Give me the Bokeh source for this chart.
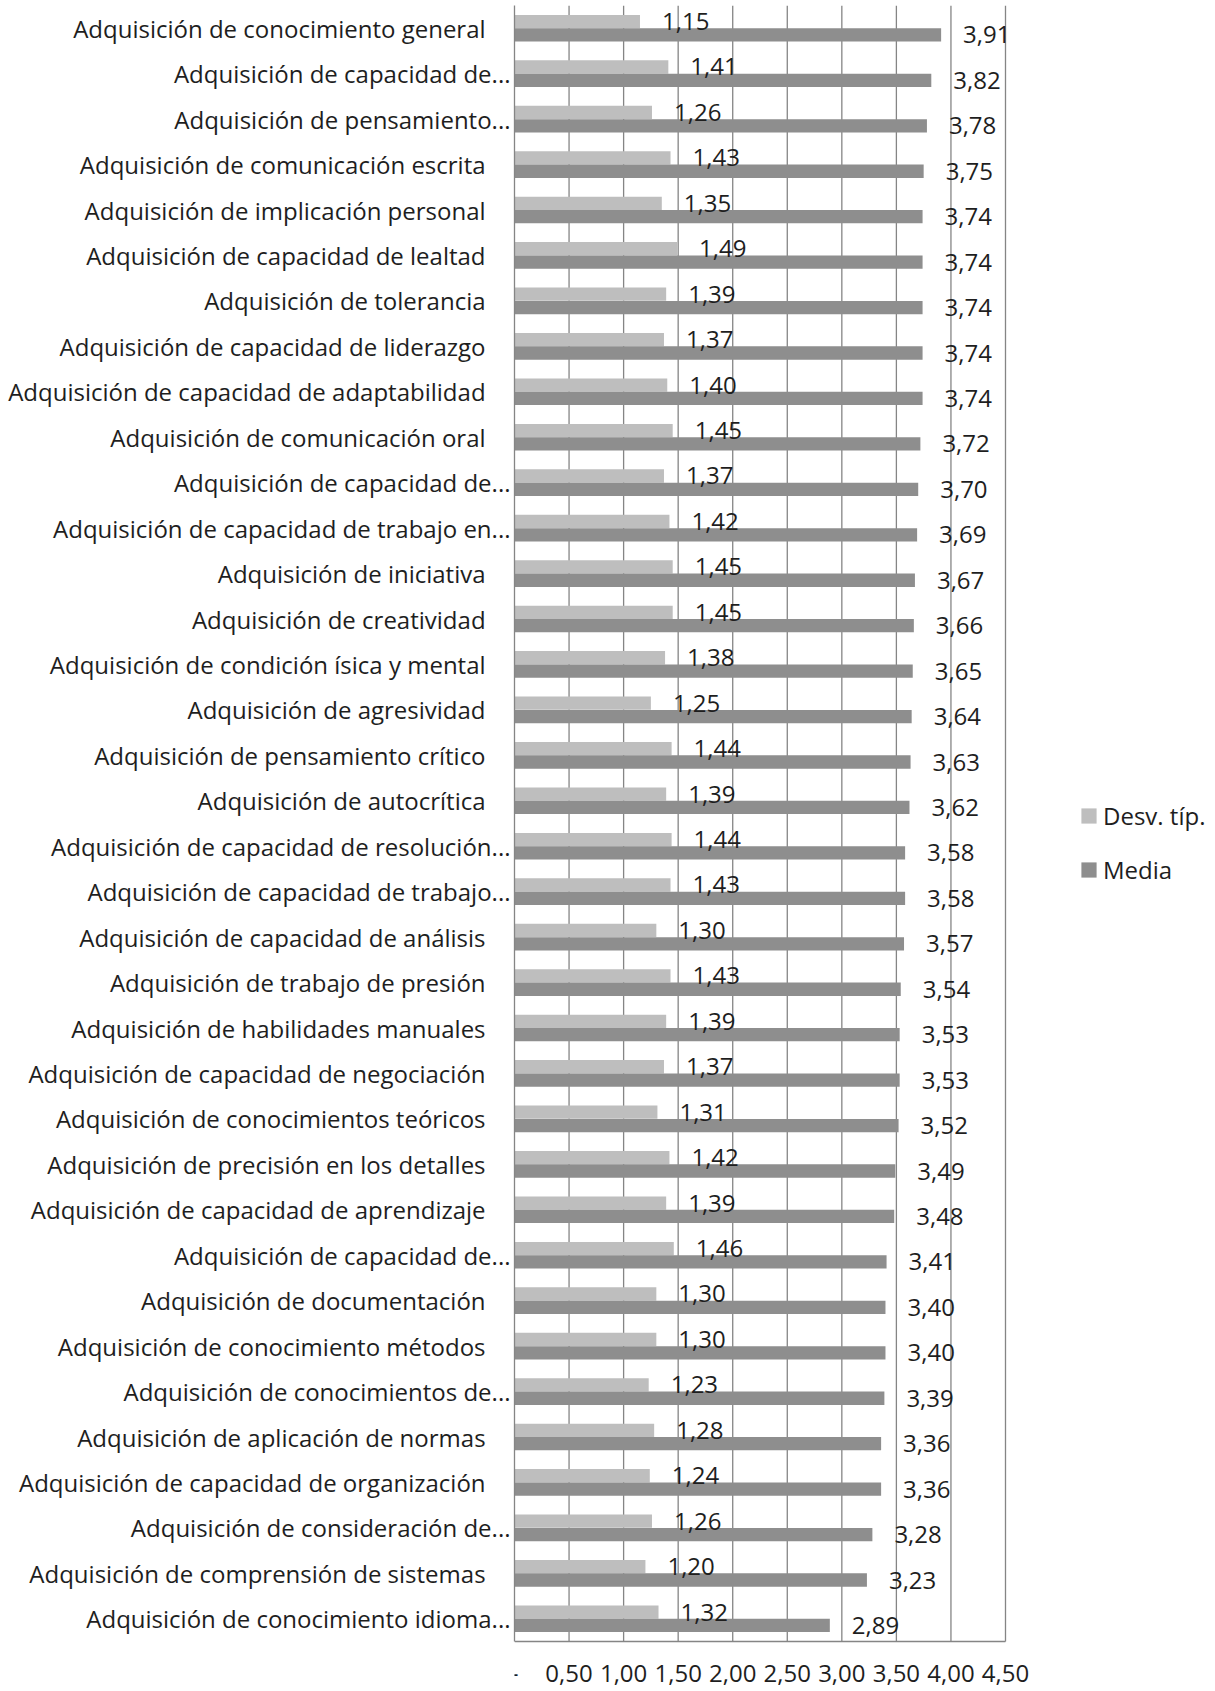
from bokeh.plotting import figure
from bokeh.models import Range1d, FixedTicker, Legend, LegendItem, ColumnDataSource
from bokeh.transform import dodge
from bokeh.core.properties import value
from bokeh.embed import file_html
from bokeh.resources import INLINE

categories = [
    "Adquisición de conocimiento general",
    "Adquisición de capacidad de...",
    "Adquisición de pensamiento...",
    "Adquisición de comunicación escrita",
    "Adquisición de implicación personal",
    "Adquisición de capacidad de lealtad",
    "Adquisición de tolerancia",
    "Adquisición de capacidad de liderazgo",
    "Adquisición de capacidad de adaptabilidad",
    "Adquisición de comunicación oral",
    "Adquisición de capacidad de...",
    "Adquisición de capacidad de trabajo en...",
    "Adquisición de iniciativa",
    "Adquisición de creatividad",
    "Adquisición de condición ísica y mental",
    "Adquisición de agresividad",
    "Adquisición de pensamiento crítico",
    "Adquisición de autocrítica",
    "Adquisición de capacidad de resolución...",
    "Adquisición de capacidad de trabajo...",
    "Adquisición de capacidad de análisis",
    "Adquisición de trabajo de presión",
    "Adquisición de habilidades manuales",
    "Adquisición de capacidad de negociación",
    "Adquisición de conocimientos teóricos",
    "Adquisición de precisión en los detalles",
    "Adquisición de capacidad de aprendizaje",
    "Adquisición de capacidad de...",
    "Adquisición de documentación",
    "Adquisición de conocimiento métodos",
    "Adquisición de conocimientos de...",
    "Adquisición de aplicación de normas",
    "Adquisición de capacidad de organización",
    "Adquisición de consideración de...",
    "Adquisición de comprensión de sistemas",
    "Adquisición de conocimiento idioma...",
]

desv = [1.15, 1.41, 1.26, 1.43, 1.35, 1.49, 1.39, 1.37, 1.40, 1.45, 1.37, 1.42,
        1.45, 1.45, 1.38, 1.25, 1.44, 1.39, 1.44, 1.43, 1.30, 1.43, 1.39, 1.37,
        1.31, 1.42, 1.39, 1.46, 1.30, 1.30, 1.23, 1.28, 1.24, 1.26, 1.20, 1.32]

media = [3.91, 3.82, 3.78, 3.75, 3.74, 3.74, 3.74, 3.74, 3.74, 3.72, 3.70, 3.69,
         3.67, 3.66, 3.65, 3.64, 3.63, 3.62, 3.58, 3.58, 3.57, 3.54, 3.53, 3.53,
         3.52, 3.49, 3.48, 3.41, 3.40, 3.40, 3.39, 3.36, 3.36, 3.28, 3.23, 2.89]

x_ticks = [0, 0.5, 1.0, 1.5, 2.0, 2.5, 3.0, 3.5, 4.0, 4.5]
x_tick_labels = ["-", "0,50", "1,00", "1,50", "2,00", "2,50", "3,00", "3,50", "4,00", "4,50"]

series_names = ["Desv. típ.", "Media"]

FONT = "Open Sans"
TEXT_COLOR = "#1e1e1e"
LIGHT = "#BEBEBE"
DARK = "#8E8E8E"
GRID = "#858585"
NBSP = "\u00a0"

W, H = 1215, 1691
FRAME_LEFT, FRAME_TOP, AXIS_Y = 514, 5, 1641
PX_PER_UNIT = (1005 - 514) / 4.5


def fmt(v):
    return f"{v:.2f}".replace(".", ",")


n = len(categories)
row_px = (AXIS_Y - FRAME_TOP) / n
display_labels = [c if c.endswith("...") else c + NBSP * 4 for c in categories]

src = ColumnDataSource(dict(
    y=list(range(n)),
    desv=desv,
    media=media,
    desv_lbl=[fmt(v) for v in desv],
    media_lbl=[fmt(v) for v in media],
))
ticks_src = ColumnDataSource(dict(
    x=x_ticks,
    lbl=x_tick_labels,
    y0=[-0.5] * len(x_ticks),
    y1=[n - 0.5] * len(x_ticks),
))
grid_src = ColumnDataSource(dict(
    x=x_ticks[1:],
    y0=[-0.5] * (len(x_ticks) - 1),
    y1=[n - 0.5] * (len(x_ticks) - 1),
))
axis_src = ColumnDataSource(dict(
    x0=[x_ticks[0]], x1=[x_ticks[-1]], y=[n - 0.5],
))

# the frame reaches the right and bottom edges so that the legend and the
# value-axis labels can be drawn inside it
x_end = (W - FRAME_LEFT) / PX_PER_UNIT
y_bottom = n - 0.5 + (H - AXIS_Y) / row_px

p = figure(width=W, height=H, output_backend="svg", toolbar_location=None,
           x_range=Range1d(0, x_end), y_range=Range1d(y_bottom, -0.5),
           x_axis_type=None,
           min_border_left=FRAME_LEFT, min_border_right=0,
           min_border_top=FRAME_TOP, min_border_bottom=0)
p.outline_line_color = None
p.background_fill_color = "white"
p.ygrid.grid_line_color = None

# vertical grid lines (0,50 .. 4,50) and the value axis line
p.segment(x0="x", x1="x", y0="y0", y1="y1", line_color=GRID, line_width=1.3,
          source=grid_src)
p.segment(x0="x0", x1="x1", y0="y", y1="y", line_color=GRID, line_width=1.5,
          source=axis_src)

off = 0.147
bh = 0.293
r1 = p.hbar(y=dodge("y", -off), left=0, right="desv", height=bh,
            fill_color=LIGHT, line_color=None, source=src)
r2 = p.hbar(y=dodge("y", off), left=0, right="media", height=bh,
            fill_color=DARK, line_color=None, source=src)

p.text(x="desv", y=dodge("y", -off), text="desv_lbl", x_offset=22,
       text_align="left", text_baseline="middle", text_font=value(FONT),
       text_font_size="24px", text_color=TEXT_COLOR, source=src)
p.text(x="media", y=dodge("y", off), text="media_lbl", x_offset=22,
       text_align="left", text_baseline="middle", text_font=value(FONT),
       text_font_size="24px", text_color=TEXT_COLOR, source=src)

# value-axis tick labels
p.text(x="x", y="y1", text="lbl", y_offset=32, text_align="center",
       text_baseline="middle", text_font=value(FONT), text_font_size="24px",
       text_color=TEXT_COLOR, source=ticks_src)

ax = p.yaxis[0]
ax.ticker = FixedTicker(ticks=list(range(n)))
ax.major_label_overrides = {i: l for i, l in enumerate(display_labels)}
ax.bounds = (-0.5, n - 0.5)
ax.axis_line_color = GRID
ax.axis_line_width = 1.3
ax.major_tick_line_color = None
ax.minor_tick_line_color = None
ax.major_tick_out = 0
ax.major_tick_in = 0
ax.major_label_text_font = FONT
ax.major_label_text_font_size = "24px"
ax.major_label_text_color = TEXT_COLOR
ax.major_label_standoff = 4

legend = Legend(items=[LegendItem(label=series_names[0], renderers=[r1]),
                       LegendItem(label=series_names[1], renderers=[r2])],
                location=(565, 805))
legend.margin = 0
legend.padding = 0
legend.spacing = 21
legend.glyph_width = 19
legend.glyph_height = 19
legend.label_standoff = 5
legend.border_line_color = None
legend.background_fill_alpha = 0
legend.label_text_font = FONT
legend.label_text_font_size = "24px"
legend.label_text_color = TEXT_COLOR
p.add_layout(legend)

open("out.html", "w").write(file_html(p, INLINE))
